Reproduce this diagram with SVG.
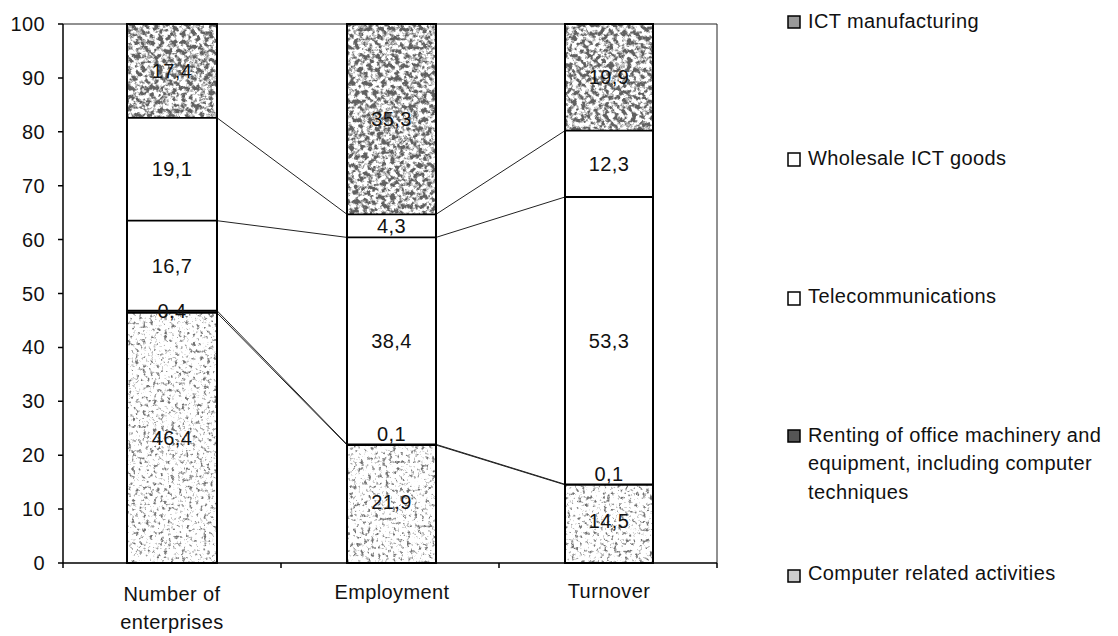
<svg xmlns="http://www.w3.org/2000/svg" width="1118" height="636" viewBox="0 0 1118 636">
<defs>
<filter id="texDark" x="0" y="0" width="1" height="1" color-interpolation-filters="sRGB">
<feTurbulence type="fractalNoise" baseFrequency="0.22" numOctaves="4" seed="7"/>
<feColorMatrix type="matrix" values="1 0 0 0 0  1 0 0 0 0  1 0 0 0 0  0 0 0 0 1"/>
<feComponentTransfer>
<feFuncR type="linear" slope="4.5" intercept="-1.65"/>
<feFuncG type="linear" slope="4.5" intercept="-1.65"/>
<feFuncB type="linear" slope="4.5" intercept="-1.65"/>
</feComponentTransfer>
<feComponentTransfer>
<feFuncR type="linear" slope="0.62" intercept="0.38"/>
<feFuncG type="linear" slope="0.62" intercept="0.38"/>
<feFuncB type="linear" slope="0.62" intercept="0.38"/>
</feComponentTransfer>
</filter>
<filter id="texLight" x="0" y="0" width="1" height="1" color-interpolation-filters="sRGB">
<feTurbulence type="fractalNoise" baseFrequency="0.28" numOctaves="4" seed="3"/>
<feColorMatrix type="matrix" values="1 0 0 0 0  1 0 0 0 0  1 0 0 0 0  0 0 0 0 1"/>
<feComponentTransfer>
<feFuncR type="linear" slope="4.5" intercept="-1.05"/>
<feFuncG type="linear" slope="4.5" intercept="-1.05"/>
<feFuncB type="linear" slope="4.5" intercept="-1.05"/>
</feComponentTransfer>
<feComponentTransfer>
<feFuncR type="linear" slope="0.55" intercept="0.45"/>
<feFuncG type="linear" slope="0.55" intercept="0.45"/>
<feFuncB type="linear" slope="0.55" intercept="0.45"/>
</feComponentTransfer>
</filter>
</defs>
<style>
text{font-family:"Liberation Sans",Arial,sans-serif;font-size:20px;fill:#111;letter-spacing:0.4px}
.mid{text-anchor:middle}
.end{text-anchor:end}
.dark{filter:url(#texDark)}
.light{filter:url(#texLight)}
.white{fill:#fff}
.rent{fill:#333}
.out{fill:none;stroke:#000;stroke-width:2}
.div{stroke:#000;stroke-width:1.8}
.conn{stroke:#222;stroke-width:1;fill:none}
.axis{stroke:#000;stroke-width:1.5;fill:none}
.frame{stroke:#222;stroke-width:1;fill:none}
.lsq{stroke:#000;stroke-width:1.5}
</style>
<rect width="1118" height="636" fill="#fff"/>

<g id="plot-frame">
<path class="frame" d="M63 24 H717 V563"/>
</g>

<g id="y-axis">
<path class="axis" d="M63 24 V563"/>
<path class="axis" d="M58 24 H63 M58 77.9 H63 M58 131.8 H63 M58 185.7 H63 M58 239.6 H63 M58 293.5 H63 M58 347.4 H63 M58 401.3 H63 M58 455.2 H63 M58 509.1 H63 M58 563 H63"/>
<text class="end" x="45" y="31">100</text>
<text class="end" x="45" y="85">90</text>
<text class="end" x="45" y="139">80</text>
<text class="end" x="45" y="193">70</text>
<text class="end" x="45" y="247">60</text>
<text class="end" x="45" y="301">50</text>
<text class="end" x="45" y="354">40</text>
<text class="end" x="45" y="408">30</text>
<text class="end" x="45" y="462">20</text>
<text class="end" x="45" y="516">10</text>
<text class="end" x="45" y="570">0</text>
</g>

<g id="x-axis">
<path class="axis" d="M63 563 H717 M63 563 V568 M281 563 V568 M499 563 V568 M717 563 V568"/>
<text class="mid" x="172" y="601">Number of</text>
<text class="mid" x="172" y="629">enterprises</text>
<text class="mid" x="392" y="599">Employment</text>
<text class="mid" x="609" y="598">Turnover</text>
</g>

<g id="connectors">
<line class="conn" x1="217" y1="117.8" x2="347" y2="214.3"/>
<line class="conn" x1="217" y1="220.7" x2="347" y2="237.4"/>
<line class="conn" x1="217" y1="310.7" x2="347" y2="444.4"/>
<line class="conn" x1="217" y1="312.9" x2="347" y2="445.0"/>
<line class="conn" x1="436" y1="214.3" x2="565" y2="130.7"/>
<line class="conn" x1="436" y1="237.4" x2="565" y2="197.0"/>
<line class="conn" x1="436" y1="444.4" x2="565" y2="484.3"/>
<line class="conn" x1="436" y1="445.0" x2="565" y2="484.8"/>
</g>

<g id="bar-enterprises">
<rect class="dark" x="127" y="24" width="90" height="93.8"/>
<rect class="white" x="127" y="117.8" width="90" height="192.9"/>
<rect class="rent" x="127" y="310.7" width="90" height="2.2"/>
<rect class="light" x="127" y="312.9" width="90" height="250.1"/>
<path class="div" d="M127 117.8 H217 M127 220.7 H217 M127 310.7 H217 M127 312.9 H217"/>
<rect class="out" x="127" y="24" width="90" height="539"/>
<text class="mid" x="172" y="78">17,4</text>
<text class="mid" x="172" y="176">19,1</text>
<text class="mid" x="172" y="273">16,7</text>
<text class="mid" x="172" y="318">0,4</text>
<text class="mid" x="172" y="445">46,4</text>
</g>

<g id="bar-employment">
<rect class="dark" x="347" y="24" width="89" height="190.3"/>
<rect class="white" x="347" y="214.3" width="89" height="230.1"/>
<rect class="light" x="347" y="444.4" width="89" height="118.6"/>
<path class="div" d="M347 214.3 H436 M347 237.4 H436 M347 444.4 H436 M347 445 H436"/>
<rect class="out" x="347" y="24" width="89" height="539"/>
<text class="mid" x="391.5" y="126">35,3</text>
<text class="mid" x="391.5" y="233">4,3</text>
<text class="mid" x="391.5" y="348">38,4</text>
<text class="mid" x="391.5" y="441">0,1</text>
<text class="mid" x="391.5" y="509">21,9</text>
</g>

<g id="bar-turnover">
<rect class="dark" x="565" y="24" width="88" height="106.7"/>
<rect class="white" x="565" y="130.7" width="88" height="353.6"/>
<rect class="light" x="565" y="484.3" width="88" height="78.7"/>
<path class="div" d="M565 130.7 H653 M565 197 H653 M565 484.3 H653 M565 484.8 H653"/>
<rect class="out" x="565" y="24" width="88" height="539"/>
<text class="mid" x="609" y="84">19,9</text>
<text class="mid" x="609" y="171">12,3</text>
<text class="mid" x="609" y="348">53,3</text>
<text class="mid" x="609" y="481">0,1</text>
<text class="mid" x="609" y="528">14,5</text>
</g>

<g id="legend-ict-manufacturing">
<rect class="lsq" fill="#999" x="788" y="16" width="12" height="12"/>
<text x="808" y="28">ICT manufacturing</text>
</g>
<g id="legend-wholesale">
<rect class="lsq" fill="#fff" x="788" y="153" width="12" height="13"/>
<text x="808" y="165">Wholesale ICT goods</text>
</g>
<g id="legend-telecom">
<rect class="lsq" fill="#fff" x="788" y="292" width="12" height="13"/>
<text x="808" y="303">Telecommunications</text>
</g>
<g id="legend-renting">
<rect class="lsq" fill="#555" x="788" y="430" width="12" height="12"/>
<text x="808" y="442">Renting of office machinery and</text>
<text x="808" y="470">equipment, including computer</text>
<text x="808" y="499">techniques</text>
</g>
<g id="legend-computer">
<rect class="lsq" fill="#ccc" x="788" y="570" width="12" height="12"/>
<text x="808" y="580">Computer related activities</text>
</g>
</svg>
